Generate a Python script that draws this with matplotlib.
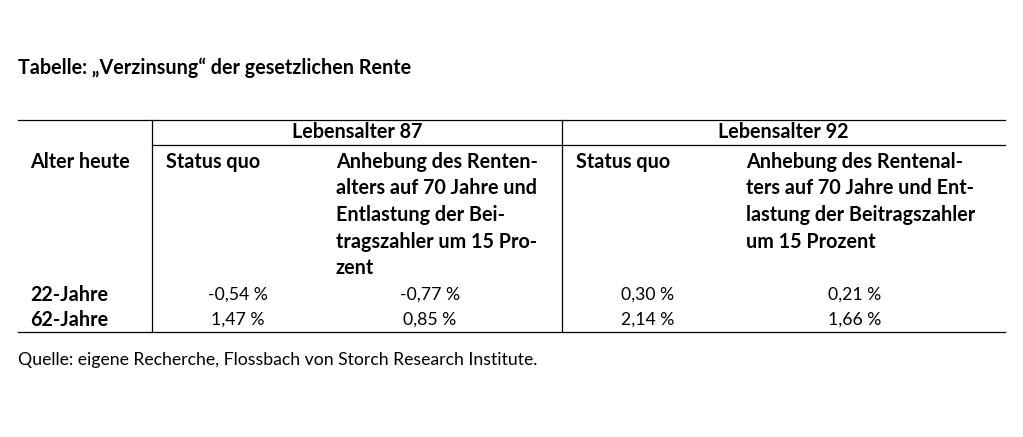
import matplotlib.pyplot as plt

plt.rcParams['font.family'] = ['Lato', 'DejaVu Sans']

title = "Tabelle: \u201eVerzinsung\u201c der gesetzlichen Rente"
groups = ["Lebensalter 87", "Lebensalter 92"]
row_head = "Alter heute"
col_heads = [
    ["Status quo"],
    ["Anhebung des Renten-", "alters auf 70 Jahre und", "Entlastung der Bei-",
     "tragszahler um 15 Pro-", "zent"],
    ["Status quo"],
    ["Anhebung des Rentenal-", "ters auf 70 Jahre und Ent-",
     "lastung der Beitragszahler", "um 15 Prozent"],
]
rows = ["22-Jahre", "62-Jahre"]
values = [
    ["-0,54 %", "-0,77 %", "0,30 %", "0,21 %"],
    ["1,47 %", "0,85 %", "2,14 %", "1,66 %"],
]
source = "Quelle: eigene Recherche, Flossbach von Storch Research Institute."

fig = plt.figure(figsize=(10.23, 4.37), dpi=100)
ax = fig.add_axes((0, 0, 1, 1))
ax.set_xlim(0, 1023)
ax.set_ylim(437, 0)
ax.axis('off')

fb = 14.2  # bold
fr = 12.7  # regular
ax.text(18, 68, title, fontsize=fb, fontweight='bold', va='center')

# lines
lw = 0.9
ax.plot([18, 1005], [120, 120], color='black', lw=lw)
ax.plot([152, 1005], [145, 145], color='black', lw=lw)
ax.plot([18, 1005], [332, 332], color='black', lw=lw)
for xv in (152, 562):
    ax.plot([xv, xv], [120, 332], color='black', lw=lw)

ax.text(357, 132, groups[0], fontsize=fb, fontweight='bold', ha='center', va='center')
ax.text(783, 132, groups[1], fontsize=fb, fontweight='bold', ha='center', va='center')

line_h = 26.5
ax.text(30, 162, row_head, fontsize=fb, fontweight='bold', va='center')
col_x = [166, 336, 576, 746]
for cx, lines in zip(col_x, col_heads):
    for i, s in enumerate(lines):
        ax.text(cx, 162 + i * line_h, s, fontsize=fb, fontweight='bold', va='center')

val_x = [238, 430, 648, 855]
row_y = [295, 320]
for ry, name, vals in zip(row_y, rows, values):
    ax.text(30, ry, name, fontsize=fb, fontweight='bold', va='center')
    for vx, v in zip(val_x, vals):
        ax.text(vx, ry, v, fontsize=fr, ha='center', va='center')

ax.text(18, 360, source, fontsize=fr, va='center')

fig.savefig('out.png', dpi=100, facecolor='white')
